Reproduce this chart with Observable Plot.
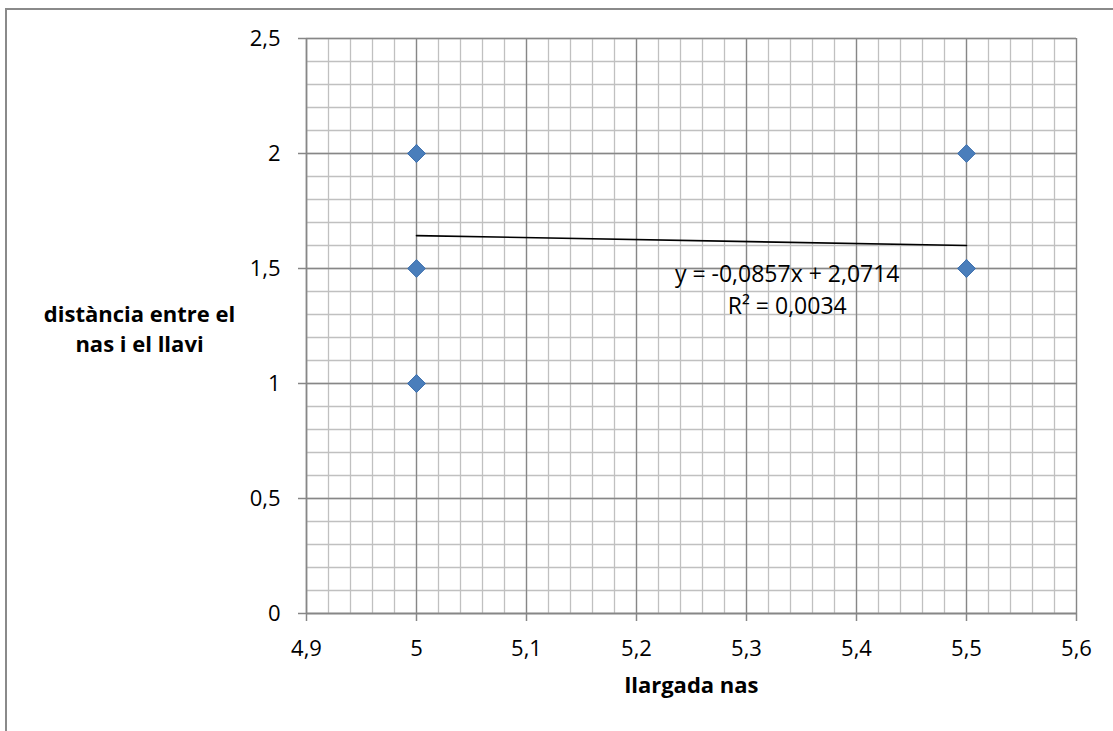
<!DOCTYPE html>
<html>
<head>
<meta charset="utf-8">
<script src="https://cdn.jsdelivr.net/npm/d3@7"></script>
<script src="https://cdn.jsdelivr.net/npm/@observablehq/plot@0.6"></script>
<style>
  html, body { margin: 0; padding: 0; background: #fff; overflow: hidden; }
  #wrap { position: relative; width: 1113px; height: 731px; }
  #frame { position: absolute; left: 5px; top: 8px; width: 1200px; height: 800px;
           border-left: 2.5px solid #8a8a8a; border-top: 2.5px solid #8a8a8a; }
  #chart { position: absolute; left: 0; top: 0; }
</style>
</head>
<body>
<div id="wrap"><div id="frame"></div><div id="chart"></div></div>
<script>
// Data: nose length (x) vs nose-lip distance (y); duplicates overlap
const noseLength = [5, 5, 5, 5, 5, 5, 5, 5.5, 5.5, 5.5, 5.5, 5.5];
const lipDistance = [2, 2, 2, 2, 1.5, 1, 1, 2, 1.5, 1.5, 1.5, 1.5];

const xTicks = [4.9, 5, 5.1, 5.2, 5.3, 5.4, 5.5, 5.6];
const xTickLabels = ["4,9", "5", "5,1", "5,2", "5,3", "5,4", "5,5", "5,6"];
const yTicks = [0, 0.5, 1, 1.5, 2, 2.5];
const yTickLabels = ["0", "0,5", "1", "1,5", "2", "2,5"];

const xTitle = "llargada nas";
const yTitleLines = ["distància entre el", "nas i el llavi"];
const equationLines = ["y = -0,0857x + 2,0714", "R² = 0,0034"];

const points = noseLength.map((x, i) => ({x, y: lipDistance[i]}));

const xMinor = d3.range(0, 36).map(i => 4.9 + i * 0.02);
const yMinor = d3.range(0, 26).map(i => i * 0.1);

const fmt = (ticks, labels) => d => labels[ticks.findIndex(t => Math.abs(t - d) < 1e-9)];

const FONT = "'Open Sans', Lato, sans-serif";
const major = "#878787", minor = "#c0c0c0";

const plot = Plot.plot({
  width: 1113,
  height: 731,
  marginLeft: 306,
  marginRight: 37,
  marginTop: 38,
  marginBottom: 118,
  style: {fontFamily: FONT, fontSize: "22px", color: "#000", background: "transparent", overflow: "visible"},
  x: {domain: [4.9, 5.6]},
  y: {domain: [0, 2.5]},
  marks: [
    Plot.gridX(xMinor, {stroke: minor, strokeOpacity: 1, strokeWidth: 1.3}),
    Plot.gridY(yMinor, {stroke: minor, strokeOpacity: 1, strokeWidth: 1.3}),
    Plot.gridX(xTicks, {stroke: major, strokeOpacity: 1, strokeWidth: 1.3}),
    Plot.gridY(yTicks, {stroke: major, strokeOpacity: 1, strokeWidth: 1.3}),
    Plot.ruleY([0], {stroke: major, strokeWidth: 1.5}),
    Plot.ruleX([4.9], {stroke: major, strokeWidth: 1.5}),
    Plot.axisX(xTicks, {tickSize: 8, tickPadding: 19, stroke: major, strokeWidth: 1.5, fill: "#000",
      tickFormat: fmt(xTicks, xTickLabels), label: null, fontSize: 22}),
    Plot.axisY(yTicks, {tickSize: 8, tickPadding: 18, stroke: major, strokeWidth: 1.5, fill: "#000",
      tickFormat: fmt(yTicks, yTickLabels), label: null, fontSize: 22}),
    Plot.linearRegressionY(points, {x: "x", y: "y", ci: 0, stroke: "#000", strokeWidth: 1.6}),
    Plot.dot(points, {x: "x", y: "y", symbol: "diamond2", r: 8, fill: "#4a7ebb", stroke: "#4373ae", strokeWidth: 1}),
    Plot.text([equationLines[0]], {x: 5.337, y: 1.475, text: d => d, fontSize: 23, fill: "#000"}),
    Plot.text([equationLines[1]], {x: 5.337, y: 1.335, text: d => d, fontSize: 23, fill: "#000"}),
    Plot.text([xTitle], {frameAnchor: "bottom", dy: 79, text: d => d, fontSize: 22, fontWeight: "bold", fill: "#000"}),
    Plot.text([yTitleLines[0]], {frameAnchor: "left", textAnchor: "middle", dx: -167, dy: -11, text: d => d, fontSize: 22, fontWeight: "bold", fill: "#000"}),
    Plot.text([yTitleLines[1]], {frameAnchor: "left", textAnchor: "middle", dx: -167, dy: 19, text: d => d, fontSize: 22, fontWeight: "bold", fill: "#000"})
  ]
});
document.getElementById("chart").appendChild(plot);
</script>
</body>
</html>
